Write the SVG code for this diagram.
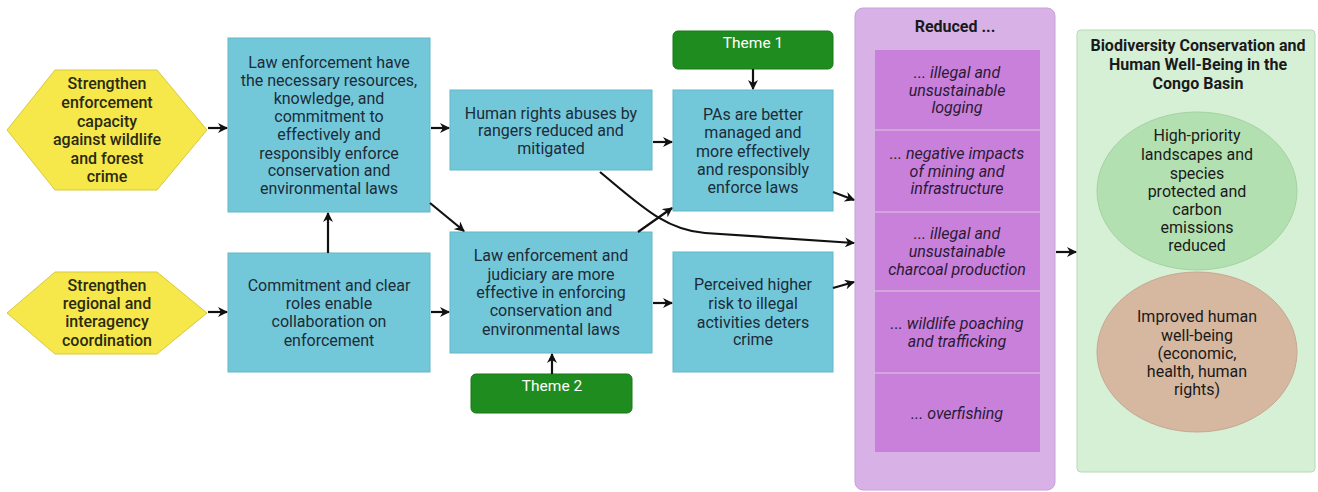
<svg xmlns="http://www.w3.org/2000/svg" width="1318" height="492" viewBox="0 0 1318 492">
<defs>
<marker id="ah" viewBox="0 0 10 10" refX="9" refY="5" markerWidth="10" markerHeight="10" markerUnits="userSpaceOnUse" orient="auto">
<path d="M0,0 L10,5 L0,10 L3,5 z" fill="#111"/>
</marker>
<style>
text{font-family:Roboto,"Liberation Sans",sans-serif;font-size:16px;text-anchor:middle;fill:#1d2b3a}
.hex{fill:#f6e74b;stroke:#d9c93c;stroke-width:1}
.hext{fill:#2a2a10;font-weight:500}
.box{fill:#72c8d8;stroke:#63b8c8;stroke-width:1}
.theme{fill:#1e8c1e;stroke:#177a17}
.themet{fill:#ffffff;font-size:15.5px}
.item{fill:#c980da}
.itemt{font-style:italic;fill:#2b1a36}
.sep{stroke:#d2a6dc;stroke-width:2}
.conn{fill:none;stroke:#111;stroke-width:2.2;marker-end:url(#ah)}
.bold{font-weight:700;fill:#1a1a1a}
.dk{fill:#1a1a1a}
</style>
</defs>
<rect width="1318" height="492" fill="#ffffff"/>

<g id="hex1">
<polygon class="hex" points="7,130 55,70 157,70 207,130 157,190 55,190"/>
<text class="hext" x="107" y="89">Strengthen</text>
<text class="hext" x="107" y="108">enforcement</text>
<text class="hext" x="107" y="127">capacity</text>
<text class="hext" x="107" y="145">against wildlife</text>
<text class="hext" x="107" y="164">and forest</text>
<text class="hext" x="107" y="182">crime</text>
</g>

<g id="hex2">
<polygon class="hex" points="7,313 55,272 157,272 207,313 157,354 55,354"/>
<text class="hext" x="107" y="291">Strengthen</text>
<text class="hext" x="107" y="309">regional and</text>
<text class="hext" x="107" y="327">interagency</text>
<text class="hext" x="107" y="346">coordination</text>
</g>

<g id="boxA">
<rect class="box" x="228" y="38" width="202" height="174"/>
<text x="329" y="68">Law enforcement have</text>
<text x="329" y="86">the necessary resources,</text>
<text x="329" y="104">knowledge, and</text>
<text x="329" y="122">commitment to</text>
<text x="329" y="140">effectively and</text>
<text x="329" y="159">responsibly enforce</text>
<text x="329" y="176">conservation and</text>
<text x="329" y="194">environmental laws</text>
</g>

<g id="boxB">
<rect class="box" x="228" y="253" width="202" height="119"/>
<text x="329" y="291">Commitment and clear</text>
<text x="329" y="309">roles enable</text>
<text x="329" y="327">collaboration on</text>
<text x="329" y="346">enforcement</text>
</g>

<g id="boxC">
<rect class="box" x="450" y="90" width="202" height="80"/>
<text x="551" y="119">Human rights abuses by</text>
<text x="551" y="136">rangers reduced and</text>
<text x="551" y="154">mitigated</text>
</g>

<g id="theme1">
<rect class="theme" x="673" y="31" width="160" height="38" rx="5"/>
<text class="themet" x="753" y="48">Theme 1</text>
</g>

<g id="boxD">
<rect class="box" x="673" y="90" width="160" height="121"/>
<text x="753" y="120">PAs are better</text>
<text x="753" y="138">managed and</text>
<text x="753" y="157">more effectively</text>
<text x="753" y="175">and responsibly</text>
<text x="753" y="193">enforce laws</text>
</g>

<g id="boxE">
<rect class="box" x="450" y="232" width="202" height="121"/>
<text x="551" y="261">Law enforcement and</text>
<text x="551" y="280">judiciary are more</text>
<text x="551" y="298">effective in enforcing</text>
<text x="551" y="316">conservation and</text>
<text x="551" y="335">environmental laws</text>
</g>

<g id="boxF">
<rect class="box" x="673" y="252" width="160" height="120"/>
<text x="753" y="290">Perceived higher</text>
<text x="753" y="309">risk to illegal</text>
<text x="753" y="328">activities deters</text>
<text x="753" y="345">crime</text>
</g>

<g id="theme2">
<rect class="theme" x="471" y="374" width="161" height="39" rx="5"/>
<text class="themet" x="552" y="391">Theme 2</text>
</g>

<g id="reduced">
<rect x="855" y="8" width="200" height="482" rx="8" fill="#d8b2e6" stroke="#c9a0d9" stroke-width="1"/>
<text class="bold" x="955" y="32">Reduced ...</text>
<rect class="item" x="875" y="50" width="165" height="402"/>
<line class="sep" x1="875" y1="130" x2="1040" y2="130"/>
<line class="sep" x1="875" y1="212" x2="1040" y2="212"/>
<line class="sep" x1="875" y1="291" x2="1040" y2="291"/>
<line class="sep" x1="875" y1="373" x2="1040" y2="373"/>
<text class="itemt" x="957" y="78">... illegal and</text>
<text class="itemt" x="957" y="96">unsustainable</text>
<text class="itemt" x="957" y="113">logging</text>
<text class="itemt" x="957" y="159">... negative impacts</text>
<text class="itemt" x="957" y="177">of mining and</text>
<text class="itemt" x="957" y="194">infrastructure</text>
<text class="itemt" x="957" y="239">... illegal and</text>
<text class="itemt" x="957" y="257">unsustainable</text>
<text class="itemt" x="957" y="275">charcoal production</text>
<text class="itemt" x="957" y="329">... wildlife poaching</text>
<text class="itemt" x="957" y="347">and trafficking</text>
<text class="itemt" x="957" y="419">... overfishing</text>
</g>

<g id="goal">
<rect x="1077" y="30" width="238" height="442" rx="4" fill="#d6f0d6" stroke="#b8d8b8" stroke-width="1"/>
<text class="bold" x="1198" y="51">Biodiversity Conservation and</text>
<text class="bold" x="1198" y="70">Human Well-Being in the</text>
<text class="bold" x="1198" y="89">Congo Basin</text>
<ellipse cx="1197" cy="191" rx="100" ry="79" fill="#b3e0b0" stroke="#a4d2a2" stroke-width="1"/>
<text class="dk" x="1197" y="141">High-priority</text>
<text class="dk" x="1197" y="160">landscapes and</text>
<text class="dk" x="1197" y="179">species</text>
<text class="dk" x="1197" y="197">protected and</text>
<text class="dk" x="1197" y="215">carbon</text>
<text class="dk" x="1197" y="233">emissions</text>
<text class="dk" x="1197" y="251">reduced</text>
<ellipse cx="1197" cy="352" rx="100" ry="80" fill="#d6b7a0" stroke="#c6a790" stroke-width="1"/>
<text class="dk" x="1197" y="322">Improved human</text>
<text class="dk" x="1197" y="341">well-being</text>
<text class="dk" x="1197" y="359">(economic,</text>
<text class="dk" x="1197" y="377">health, human</text>
<text class="dk" x="1197" y="395">rights)</text>
</g>

<g id="connectors">
<path class="conn" d="M208,128 L227,128"/>
<path class="conn" d="M208,312 L227,312"/>
<path class="conn" d="M328,253 L328,213"/>
<path class="conn" d="M431,128 L449,128"/>
<path class="conn" d="M431,312 L449,312"/>
<path class="conn" d="M430,203 L464,231"/>
<path class="conn" d="M653,142 L672,142"/>
<path class="conn" d="M638,232 L672,208"/>
<path class="conn" d="M653,303 L672,303"/>
<path class="conn" d="M753,69 L753,89"/>
<path class="conn" d="M552,374 L552,354"/>
<path class="conn" d="M600,172 C640,205 665,230 705,233 L854,243"/>
<path class="conn" d="M833,192 L854,200"/>
<path class="conn" d="M833,288 L854,282"/>
<path class="conn" d="M1056,252 L1076,252"/>
</g>
</svg>
